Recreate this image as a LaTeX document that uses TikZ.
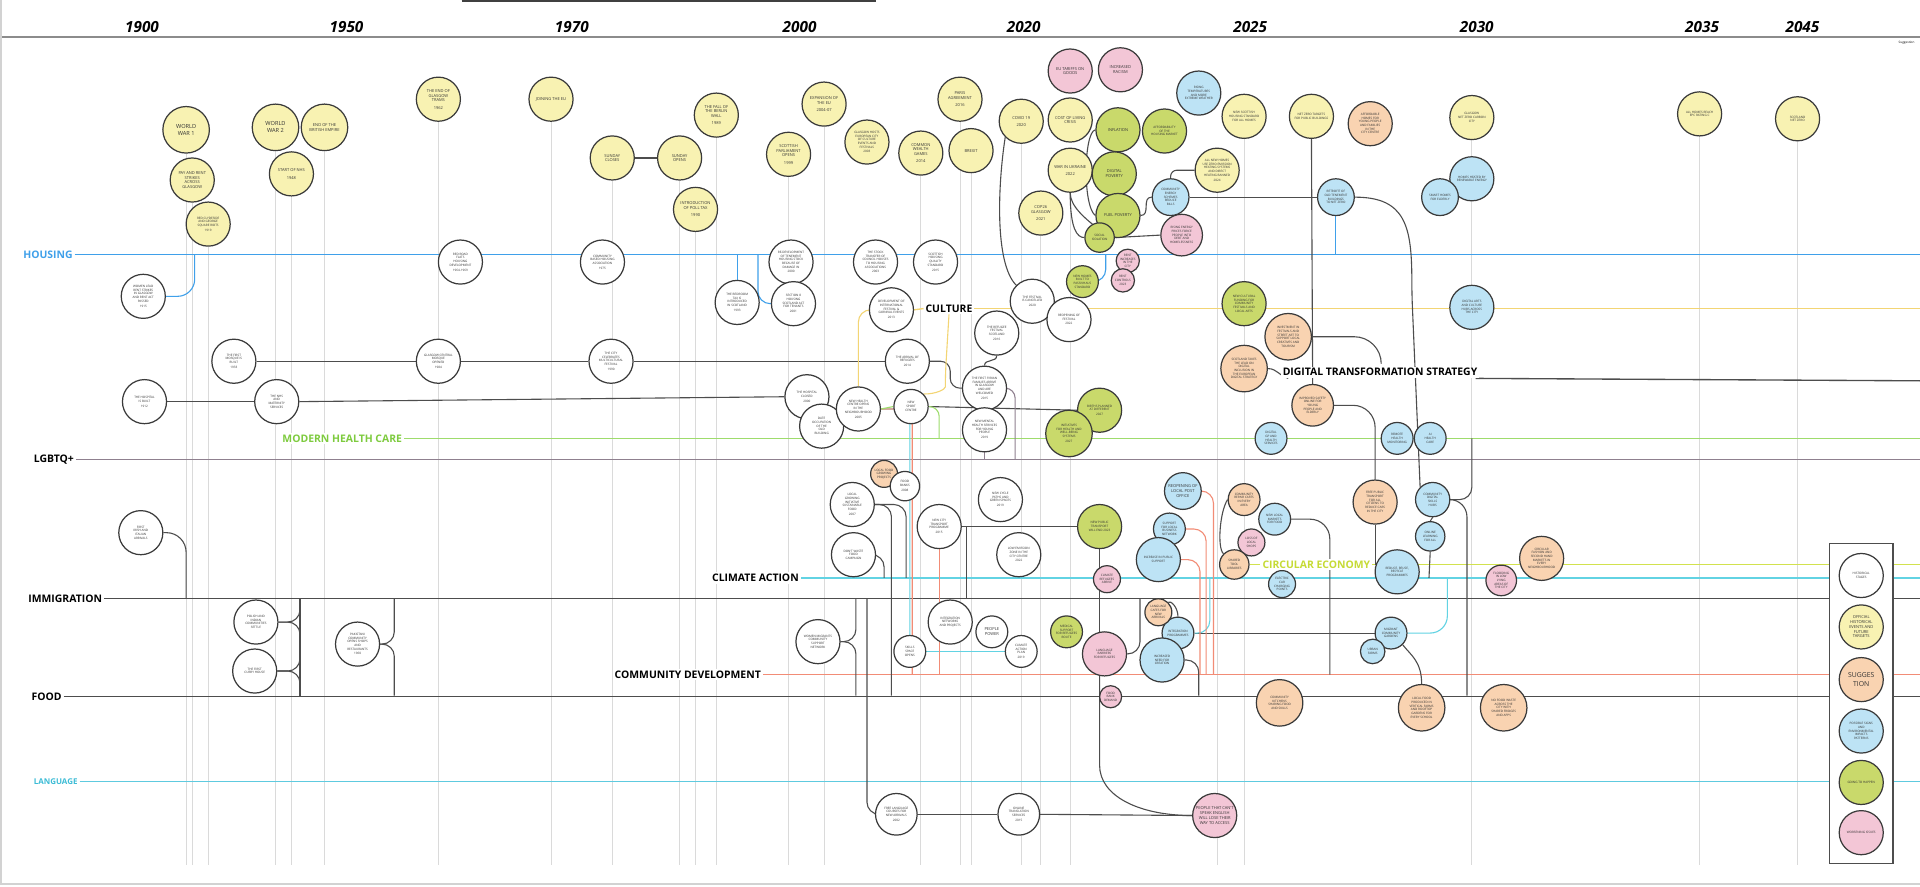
\documentclass[tikz,border=0pt]{standalone}
\usepackage{fontspec}
\setmainfont{Open Sans}
\pgfdeclarelayer{back}
\pgfdeclarelayer{bg}
\pgfsetlayers{back,bg,main}
\definecolor{cyel}{HTML}{F8F2B2}
\definecolor{cpink}{HTML}{F3C6D6}
\definecolor{cgreen}{HTML}{C9D96B}
\definecolor{cblue}{HTML}{BDE3F5}
\definecolor{corange}{HTML}{F9D3B1}
\definecolor{cbord}{HTML}{3A3A3A}
\definecolor{chouse}{HTML}{3FA0EA}
\definecolor{cculture}{HTML}{F3D574}
\definecolor{chealth}{HTML}{9EDC6C}
\definecolor{chealthT}{HTML}{7ECB3F}
\definecolor{clgbt}{HTML}{8F808F}
\definecolor{cclim}{HTML}{62D3E3}
\definecolor{cdark}{HTML}{4D4D4D}
\definecolor{ccomm}{HTML}{F28C76}
\definecolor{clang}{HTML}{5ECADF}
\definecolor{clangT}{HTML}{3CBCD6}
\definecolor{ccirc}{HTML}{D2E24E}
\definecolor{ccircT}{HTML}{C6DB35}
\definecolor{cgrid}{HTML}{DADADA}
\newcommand\ft{\fontsize{2.5}{3.0}\selectfont}
\newcommand\fm{\fontsize{3.3}{3.9}\selectfont}
\newcommand\fb{\fontsize{4.6}{5.6}\selectfont}
\newcommand\labf{\fontsize{8.5}{10}\selectfont\bfseries}
\newcommand\yearf{\fontsize{12.5}{14}\selectfont\bfseries\itshape}
\begin{document}
\begin{tikzpicture}[x=1pt,y=-1pt,
  ev/.style={circle,draw=cbord,line width=1pt,inner sep=0pt,align=center,font=\ft,text=black!80,minimum size=36pt},
  cY/.style={ev,fill=cyel}, cP/.style={ev,fill=cpink}, cG/.style={ev,fill=cgreen},
  cB/.style={ev,fill=cblue}, cO/.style={ev,fill=corange}, cW/.style={ev,fill=white},
  lab/.style={font=\labf,inner sep=1.5pt,fill=white},
  yrline/.style={draw=cgrid,line width=0.7pt},
  dk/.style={draw=cdark,line width=0.9pt,rounded corners=10pt},
  hs/.style={draw=chouse,line width=0.9pt,rounded corners=10pt},
  cy/.style={draw=cclim,line width=0.9pt,rounded corners=10pt},
  sa/.style={draw=ccomm,line width=0.9pt,rounded corners=10pt},
  gr/.style={draw=chealth,line width=0.9pt,rounded corners=8pt},
  pu/.style={draw=clgbt,line width=0.9pt,rounded corners=8pt},
  yl/.style={draw=cculture,line width=0.9pt,rounded corners=10pt},
  year/.style={font=\yearf,inner sep=0pt}
]
\path[use as bounding box] (0,0) rectangle (1568,724);
\begin{pgfonlayer}{back}
\fill[white] (0,0) rectangle (1568,724);
\draw[gray!35,line width=1pt] (0.8,0) -- (0.8,722) -- (1568,722);
\draw[black!75,line width=1.5pt] (377,0.75) -- (715,0.75);
\draw[black!45,line width=1.6pt] (2,30.5) -- (1568,30.5);
\end{pgfonlayer}

% ---------- years
\node[year] at (116,22) {1900};
\node[year] at (283,22) {1950};
\node[year] at (467,22) {1970};
\node[year] at (653,22) {2000};
\node[year] at (836,22) {2020};
\node[year] at (1021,22) {2025};
\node[year] at (1206,22) {2030};
\node[year] at (1390,22) {2035};
\node[year] at (1472,22) {2045};
\node[font=\ft,inner sep=0pt] at (1557,35) {Suggestion};

% ---------- yellow events
\node[cY,minimum size=38pt,font=\fb] (y1) at (152,106) {WORLD\\WAR 1};
\node[cY,font=\fm] (y2) at (157,147) {PAY AND RENT\\STRIKES\\ACROSS\\GLASGOW};
\node[cY] (y3) at (170,183) {RED CLYDESIDE\\AND GEORGE\\SQUARE RIOTS\\[1pt]1919};
\node[cY,minimum size=38pt,font=\fb] (y4) at (225,104) {WORLD\\WAR 2};
\node[cY,minimum size=38pt,font=\fm] (y5) at (265,104) {END OF THE\\BRITISH EMPIRE};
\node[cY,font=\fm] (y6) at (238,142) {START OF NHS\\[3pt]1948};
\node[cY,font=\fm] (y7) at (358,81) {THE END OF\\GLASGOW\\TRAMS\\[2pt]1962};
\node[cY,font=\fm] (y8) at (450,81) {JOINING THE EU};
\node[cY,font=\fm] (y9) at (500,129) {SUNDAY\\CLOSES};
\node[cY,font=\fm] (y10) at (555,129) {SUNDAY\\OPENS};
\node[cY,font=\fm] (y11) at (585,94) {THE FALL OF\\THE BERLIN\\WALL\\[2pt]1989};
\node[cY,font=\fm] (y12) at (568,171) {INTRODUCTION\\OF POLL TAX\\[2pt]1990};
\node[cY,font=\fm] (y13) at (644,126) {SCOTTISH\\PARLIAMENT\\OPENS\\[2pt]1999};
\node[cY,font=\fm] (y14) at (673,85) {EXPANSION OF\\THE EU\\[2pt]2004-07};
\node[cY] (y15) at (708,116) {GLASGOW HOSTS\\EUROPEAN CITY\\OF CULTURE\\EVENTS AND\\FESTIVALS\\[1pt]2003};
\node[cY,font=\fm] (y16) at (752,125) {COMMON\\WEALTH\\GAMES\\[2pt]2014};
\node[cY,font=\fm] (y17) at (784,81) {PARIS\\AGREEMENT\\[2pt]2016};
\node[cY,font=\fm] (y18) at (793,123) {BREXIT};
\node[cY,font=\fm] (y19) at (834,99) {COVID 19\\[2pt]2020};
\node[cY,font=\fm] (y20) at (850,174) {COP26\\GLASGOW\\[2pt]2021};
\node[cY,font=\fm] (y21) at (874,98) {COST OF LIVING\\CRISIS};
\node[cY,font=\fm] (y22) at (874,139) {WAR IN UKRAINE\\[2pt]2022};
\node[cY] (y23) at (1016,95) {NEW SCOTTISH\\HOUSING STANDARD\\FOR ALL HOMES};
\node[cY] (y24) at (994,139) {ALL NEW HOMES\\USE ZERO EMISSION\\HEATING SYSTEMS\\AND DIRECT\\HEATING BANNED\\[1pt]2024};
\node[cY] (y25) at (1071,95) {NET ZERO TARGETS\\FOR PUBLIC BUILDINGS};
\node[cY] (y26) at (1202,96) {GLASGOW\\NET ZERO CARBON\\CITY};
\node[cY] (y27) at (1388,93) {ALL HOMES REACH\\EPC RATING C};
\node[cY] (y28) at (1468,97) {SCOTLAND\\NET ZERO};

% ---------- pink
\node[cP,font=\fm] (p1) at (874,58) {EU TARIFFS ON\\GOODS};
\node[cP,font=\fm] (p2) at (915,57) {INCREASED\\RACISM};
\node[cP,minimum size=34pt] (p3) at (965,192) {RISING ENERGY\\PRICES FORCE\\PEOPLE INTO\\DEBT AND\\HOMELESSNESS};
\node[cP,minimum size=19pt] (p4) at (921,213) {RENT\\INCREASES\\IN THE\\CITY};
\node[cP,minimum size=19pt] (p5) at (917,229) {RENT\\CONTROLS\\2023};
\node[cP,minimum size=22pt] (p6) at (904,473) {CLIMATE\\REFUGEES\\ARRIVE};
\node[cP] (p7) at (902,534) {LANGUAGE\\BARRIERS\\FOR REFUGEES};
\node[cP,minimum size=18pt] (p8) at (907,569) {FOOD\\BANK\\DEMAND};
\node[cP,minimum size=22pt] (p9) at (1022,443) {LOSS OF\\LOCAL\\SHOPS};
\node[cP,minimum size=25pt] (p10) at (1226,474) {FLOODING\\IN LOW\\LYING\\AREAS OF\\THE CITY};
\node[cP,font=\fm] (p11) at (992,666) {PEOPLE THAT CAN'T\\SPEAK ENGLISH\\WILL LOSE THEIR\\WAY TO ACCESS};

% ---------- green
\node[cG,font=\fm] (g1) at (913,106) {INFLATION};
\node[cG] (g2) at (951,107) {AFFORDABILITY\\OF THE\\HOUSING MARKET};
\node[cG,font=\fm] (g3) at (910,142) {DIGITAL\\POVERTY};
\node[cG,font=\fm] (g4) at (913,176) {FUEL POVERTY};
\node[cG,minimum size=24pt] (g5) at (898,194) {SOCIAL\\ISOLATION};
\node[cG,minimum size=26pt] (g6) at (884,230) {NEW HOMES\\BUILT TO\\PASSIVHAUS\\STANDARD};
\node[cG] (g7) at (1016,248) {NEW CULTURAL\\FUNDING FOR\\COMMUNITY\\FESTIVALS AND\\LOCAL ARTS};
\node[cG] (g8) at (898,335) {BIRTHS PLANNED\\AT DIFFERENT\\[1pt]2027};
\node[cG,minimum size=38pt] (g9) at (873,354) {INITIATIVES\\FOR HEALTH AND\\WELL-BEING\\SYSTEMS\\[1pt]2027};
\node[cG] (g10) at (898,430) {NEW PUBLIC\\TRANSPORT\\WILL END 2023};
\node[cG,minimum size=26pt] (g11) at (871,516) {MEDICAL\\SUPPORT\\FOR REFUGEES\\ROUTE};

% ---------- blue
\node[cB] (b1) at (979,76) {RISING\\TEMPERATURES\\AND MORE\\EXTREME WEATHER};
\node[cB,minimum size=30pt] (b2) at (956,161) {COMMUNITY\\ENERGY\\SCHEMES\\REDUCE\\BILLS};
\node[cB,minimum size=30pt] (b3) at (1091,161) {RETROFIT OF\\OLD TENEMENT\\BUILDINGS\\TO NET ZERO};
\node[cB] (b4) at (1202,146) {HOMES HEATED BY\\RENEWABLE ENERGY};
\node[cB,minimum size=30pt] (b5) at (1176,161) {SMART HOMES\\FOR ELDERLY};
\node[cB] (b6) at (1202,251) {DIGITAL ARTS\\AND CULTURE\\HUBS ACROSS\\THE CITY};
\node[cB,minimum size=26pt] (b7) at (1038,358) {DIGITAL\\GP AND\\HEALTH\\SERVICES};
\node[cB,minimum size=26pt] (b8) at (1141,358) {REMOTE\\HEALTH\\MONITORING};
\node[cB,minimum size=26pt] (b9) at (1168,358) {AI\\HEALTH\\CARE};
\node[cB,minimum size=30pt,font=\fm] (b10) at (966,401) {REOPENING OF\\LOCAL POST\\OFFICE};
\node[cB,minimum size=26pt] (b11) at (955,432) {SUPPORT\\FOR LOCAL\\BUSINESS\\NETWORK};
\node[cB] (b12) at (946,457) {INCREASE IN PUBLIC\\SUPPORT};
\node[cB,minimum size=26pt] (b13) at (1041,424) {NEW LOCAL\\MARKETS\\FOR FOOD};
\node[cB,minimum size=22pt] (b14) at (1047,477) {ELECTRIC\\CAR\\CHARGING\\POINTS};
\node[cB,minimum size=28pt] (b15) at (1170,408) {COMMUNITY\\DIGITAL\\SKILLS\\HUBS};
\node[cB,minimum size=24pt] (b16) at (1168,438) {ONLINE\\LEARNING\\FOR ALL};
\node[cB] (b17) at (1141,467) {REDUCE, REUSE,\\RECYCLE\\PROGRAMMES};
\node[cB,minimum size=26pt] (b18) at (962,517) {INTEGRATION\\PROGRAMMES};
\node[cB] (b19) at (949,539) {INCREASED\\NEED FOR\\CREATION};
\node[cB,minimum size=26pt] (b20) at (1136,517) {MIGRANT\\COMMUNITY\\GARDENS};
\node[cB,minimum size=20pt] (b21) at (1121,532) {URBAN\\FARMS};

% ---------- orange
\node[cO] (o1) at (1119,101) {AFFORDABLE\\HOMES FOR\\YOUNG PEOPLE\\AND FAMILIES\\IN THE\\CITY CENTRE};
\node[cO,minimum size=38pt] (o2) at (1052,275) {INVESTMENT IN\\FESTIVALS AND\\STREET ART TO\\SUPPORT LOCAL\\CREATIVES AND\\TOURISM};
\node[cO,minimum size=38pt] (o3) at (1016,301) {SCOTLAND TAKES\\THE LEAD ON\\DIGITAL\\INCLUSION IN\\THE EUROPEAN\\DIGITAL STRATEGY};
\node[cO,minimum size=34pt] (o4) at (1072,331) {IMPROVED SAFETY\\ONLINE FOR\\YOUNG\\PEOPLE AND\\ELDERLY};
\node[cO,minimum size=26pt] (o5) at (1016,408) {COMMUNITY\\REPAIR CAFES\\IN EVERY\\AREA};
\node[cO,minimum size=24pt] (o6) at (1008,461) {SHARED\\TOOL\\LIBRARIES};
\node[cO] (o7) at (1123,410) {FREE PUBLIC\\TRANSPORT\\FOR ALL\\CITIZENS TO\\REDUCE CARS\\IN THE CITY};
\node[cO,minimum size=22pt] (o8) at (946,500) {LANGUAGE\\CAFES FOR\\NEW\\ARRIVALS};
\node[cO,minimum size=22pt] (o9) at (722,387) {LOCAL FOOD\\GROWING\\PROJECTS};
\node[cO] (o10) at (1259,456) {CIRCULAR\\FASHION AND\\SECOND HAND\\MARKETS IN\\EVERY\\NEIGHBOURHOOD};
\node[cO,minimum size=38pt] (o11) at (1045,574) {COMMUNITY\\KITCHENS\\SHARING FOOD\\AND SKILLS};
\node[cO,minimum size=38pt] (o12) at (1161,578) {LOCAL FOOD\\PRODUCED IN\\VERTICAL FARMS\\AND ROOFTOP\\GARDENS FOR\\EVERY SCHOOL};
\node[cO,minimum size=38pt] (o13) at (1228,578) {NO FOOD WASTE\\ACROSS THE\\CITY WITH\\SHARED FRIDGES\\AND APPS};

% ---------- white
\node[cW] (w1) at (117,242) {WOMEN LEAD\\RENT STRIKES\\IN GLASGOW\\AND RENT ACT\\PASSED\\[1pt]1915};
\node[cW] (w2) at (191,295) {THE FIRST\\MOSQUE IS\\BUILT\\[1pt]1933};
\node[cW] (w3) at (358,295) {GLASGOW CENTRAL\\MOSQUE\\OPENED\\[1pt]1984};
\node[cW] (w4) at (499,295) {THE CITY\\CELEBRATES\\MULTICULTURAL\\FESTIVAL\\[1pt]1990};
\node[cW] (w5) at (118,328) {THE HOSPITAL\\IS BUILT\\[1pt]1912};
\node[cW] (w6) at (226,328) {THE NHS\\AND\\MATERNITY\\SERVICES};
\node[cW] (w7) at (376,214) {RED ROAD\\FLATS\\HOUSING\\DEVELOPMENT\\[1pt]1964-1969};
\node[cW] (w8) at (492,214) {COMMUNITY\\BASED HOUSING\\ASSOCIATION\\[1pt]1975};
\node[cW] (w9) at (646,214) {RE-DEVELOPMENT\\OF TENEMENT\\HOUSING STOCK\\BECAUSE OF\\DAMAGE IN\\[1pt]2000};
\node[cW] (w10) at (602,247) {THE BEDROOM\\TAX IS\\INTRODUCED\\IN SCOTLAND\\[1pt]1993};
\node[cW] (w11) at (648,248) {SECTION 8\\HOUSING\\SCOTLAND ACT\\FOR TENANTS\\[1pt]2001};
\node[cW] (w12) at (715,214) {THE STOCK\\TRANSFER OF\\COUNCIL HOUSES\\TO HOUSING\\ASSOCIATIONS\\[1pt]2003};
\node[cW] (w13) at (764,214) {SCOTTISH\\HOUSING\\QUALITY\\STANDARD\\[1pt]2015};
\node[cW] (w14) at (728,253) {DEVELOPMENT OF\\INTERNATIONAL\\FESTIVAL \&\\CARNIVAL EVENTS\\[1pt]2013};
\node[cW] (w15) at (843,246) {THE FESTIVAL\\IS CANCELLED\\[1pt]2020};
\node[cW] (w16) at (873,261) {REOPENING OF\\FESTIVAL\\[1pt]2022};
\node[cW] (w17) at (814,272) {THE REFUGEE\\FESTIVAL\\SCOTLAND\\[1pt]2016};
\node[cW] (w18) at (741,295) {THE ARRIVAL OF\\REFUGEES\\[1pt]2014};
\node[cW] (w19) at (804,317) {THE FIRST SYRIAN\\FAMILIES ARRIVE\\IN GLASGOW\\AND ARE\\WELCOMED\\[1pt]2015};
\node[cW] (w20) at (804,351) {NEW MENTAL\\HEALTH SERVICES\\FOR YOUNG\\PEOPLE\\[1pt]2019};
\node[cW] (w21) at (659,324) {THE HOSPITAL\\CLOSED\\[1pt]2000};
\node[cW] (w22) at (671,348) {DATE\\OCCUPATION\\OF THE\\OLD\\BUILDING};
\node[cW] (w23) at (701,334) {NEW HEALTH\\CENTRE OPENS\\IN THE\\NEIGHBOURHOOD\\[1pt]2005};
\node[cW,minimum size=28pt] (w24) at (744,332) {NEW\\SPORT\\CENTRE};
\node[cW,minimum size=24pt] (w25) at (739,397) {FOOD\\BANKS\\[1pt]2008};
\node[cW] (w26) at (696,412) {LOCAL\\GROWING\\INITIATIVE\\SUSTAINABLE\\FOOD\\[1pt]2007};
\node[cW] (w27) at (817,408) {NEW CYCLE\\PATHS AND\\GREEN SPACES\\[1pt]2019};
\node[cW] (w28) at (767,430) {NEW CITY\\TRANSPORT\\PROGRAMME\\[1pt]2015};
\node[cW] (w29) at (697,453) {DON'T WASTE\\FOOD\\CAMPAIGN};
\node[cW] (w30) at (832,453) {LOW EMISSION\\ZONE IN THE\\CITY CENTRE\\[1pt]2022};
\node[cW] (w31) at (115,435) {FIRST\\IRISH AND\\ITALIAN\\ARRIVALS};
\node[cW] (w32) at (209,508) {POLISH AND\\INDIAN\\COMMUNITIES\\SETTLE};
\node[cW] (w33) at (208,548) {THE FIRST\\CURRY HOUSE};
\node[cW] (w34) at (292,526) {PAKISTANI\\COMMUNITY\\OPENS SHOPS\\AND\\RESTAURANTS\\[1pt]1960};
\node[cW] (w35) at (668,524) {WOMEN MIGRANTS\\COMMUNITY\\SUPPORT\\NETWORK};
\node[cW] (w36) at (776,508) {INTEGRATION\\NETWORKS\\AND PROJECTS};
\node[cW,minimum size=26pt,font=\fm] (w37) at (810,516) {PEOPLE\\POWER};
\node[cW,minimum size=26pt] (w38) at (834,532) {CLIMATE\\ACTION\\PLAN\\[1pt]2019};
\node[cW,minimum size=26pt] (w39) at (743,532) {SKILLS\\SPACE\\OPENS};
\node[cW,minimum size=34pt] (w40) at (732,665) {FREE LANGUAGE\\COURSES FOR\\NEW ARRIVALS\\[1pt]2002};
\node[cW,minimum size=34pt] (w41) at (832,665) {ONLINE\\TRANSLATION\\SERVICES\\[1pt]2015};

% ---------- theme labels
\node[lab,anchor=east,text=chouse] (hous) at (61,208) {HOUSING};
\node[lab] (cult) at (775,252) {CULTURE};
\node[lab,anchor=east,text=chealthT] (heal) at (330,358) {MODERN HEALTH CARE};
\node[lab,anchor=east] (lgbt) at (62,375) {LGBTQ+};
\node[lab] (digi) at (1127,304) {DIGITAL TRANSFORMATION STRATEGY};
\node[lab,text=ccircT] (circ) at (1075,461) {CIRCULAR ECONOMY};
\node[lab,anchor=east] (clim) at (654,472) {CLIMATE ACTION};
\node[lab,anchor=east] (immi) at (85,489) {IMMIGRATION};
\node[lab,anchor=east] (comm) at (623,551) {COMMUNITY DEVELOPMENT};
\node[lab,anchor=east] (food) at (52,569) {FOOD};
\node[lab,anchor=east,text=clangT,font=\fontsize{6.5}{8}\selectfont\bfseries] (lang) at (65,638) {LANGUAGE};

% ---------- legend
\draw[cdark,line width=1pt,fill=white] (1494,444) rectangle (1546,705);
\node[cW] (l1) at (1520,470) {HISTORICAL\\STAGES};
\node[cY,font=\fm] (l2) at (1520,512) {OFFICIAL\\HISTORICAL\\EVENTS AND\\FUTURE\\TARGETS};
\node[cO,font=\fontsize{5.6}{6.8}\selectfont] (l3) at (1520,555) {SUGGES\\TION};
\node[cB] (l4) at (1520,597) {POSSIBLE SIGNS\\AND\\ENVIRONMENTAL\\IMPACTS\\PATTERNS};
\node[cG] (l5) at (1520,639) {GOING TO HAPPEN};
\node[cP] (l6) at (1520,680) {WORSENING ISSUES};

% ================= lines (background)
\begin{pgfonlayer}{bg}
% year lines
\foreach \n/\x in {y1/152,y2/157,y3/170,y4/225,y6/238,y5/265,y7/358,y8/450,y9/500,y10/555,y12/568,y11/585,y13/644,y14/673,y16/752,y17/784,y18/793,y19/834,y20/850,y22/874,y24/994,y23/1016,y26/1202,y27/1388,y28/1468}
  \draw[yrline] (\n.south) -- (\x,706);
% theme lines
\draw[chouse,line width=1.2pt] (hous.east) -- (1568,208);
\draw[cculture,line width=1.1pt] (w14.east) -- (cult.west);
\draw[cculture,line width=1.1pt] (cult.east) -- (1568,252);
\draw[chealth,line width=1.1pt] (heal.east) -- (1568,358);
\draw[clgbt,line width=1.1pt] (lgbt.east) -- (1568,375);
\draw[cdark,line width=1.1pt] (1205,309) -- (1568,311);
\draw[cclim,line width=1.1pt] (clim.east) -- (1568,472);
\draw[cdark,line width=1.1pt] (immi.east) -- (1568,489);
\draw[ccomm,line width=1.1pt] (comm.east) -- (1568,551);
\draw[cdark,line width=1.1pt] (food.east) -- (1568,569);
\draw[clang,line width=1.1pt] (lang.east) -- (1568,638);
\draw[ccirc,line width=1.1pt] (o6.east) -- (circ.west);
\draw[ccirc,line width=1.1pt] (circ.east) -- (1568,461);
% housing connectors
\draw[hs,rounded corners=14pt] (w1.east) -| (159,208);
\draw[hs] (602,208) -- (w10.north);
\draw[hs] (619,208) |- (w11.west);
\draw[hs] (g6.east) -| (903,208);
\draw[hs] (b3.south) -- (1091,208);
% dark connectors
\draw[dk] (y9.east) -- (y10.west);
\draw[dk] (w2.east) -- (w3.west);
\draw[dk] (w3.east) -- (w4.west);
\draw[dk] (w4.east) -- (w18.west);
\draw[dk] (w5.east) -- (w6.west);
\draw[dk] (w6.east) -- (w21.west);
\draw[dk,rounded corners=8pt] (w18.east) -| (776,317) -- (w19.west);
\draw[dk] (w17.south) .. controls (814,296) and (804,293) .. (w19.north);
\draw[dk] (w24.east) -- (g8.west);
\draw[dk] (w28.east) -- (g10.west);
\draw[dk] (789,430) -- (789,489);
\draw[dk] (w26.east) -| (728,568);
\draw[dk] (w26.east) -| (740,472);
\draw[dk] (w29.east) -| (722,472);
\draw[dk] (w35.east) -| (699,489);
\draw[dk] (w35.east) -| (699,568);
\draw[dk] (708,489) |- (w40.west);
\draw[dk] (w40.east) -- (w41.west);
\draw[dk] (w41.east) -- (p11.west);
\draw[dk,rounded corners=16pt] (w31.east) -| (152,489);
\draw[dk] (w32.east) -| (245,489);
\draw[dk] (w32.east) -| (245,530);
\draw[dk] (w33.east) -| (245,530);
\draw[dk] (w33.east) -| (245,568);
\draw[dk] (245,489) -- (245,568);
\draw[dk] (w34.east) -| (322,489);
\draw[dk] (w34.east) -| (322,568);
\draw[dk] (y19.south west) .. controls (815,150) and (812,215) .. (w15.north west);
\draw[dk] (g1.west) .. controls (885,108) and (884,168) .. (g4.west);
\draw[dk] (y22.south) .. controls (874,168) and (885,178) .. (g4.south west);
\draw[dk] (y22.south) .. controls (874,188) and (880,194) .. (g5.west);
\draw[dk] (g4.east) .. controls (940,176) and (932,161) .. (b2.west);
\draw[dk] (g5.east) -- (p3.west);
\draw[dk,rounded corners=5pt] (b2.north) |- (y24.west);
\draw[dk] (b2.east) -- (b3.west);
\draw[dk] (b3.east) .. controls (1148,161) and (1153,185) .. (1153,240) -- (b15.north west);
\draw[dk] (b15.south) -- (b16.north);
\draw[dk] (b16.south) -- (1167,472);
\draw[dk] (1202,358) |- (b15.east);
\draw[dk,rounded corners=14pt] (b15.east) -| (1198,568);
\draw[dk] (y25.south) -- (o4.north);
\draw[dk,rounded corners=22pt] (o2.east) -| (1128,297);
\draw[dk] (o3.east) .. controls (1043,301) and (1046,308) .. (1052,309);
\draw[dk,rounded corners=18pt] (o4.east) -| (o7.north);
\draw[dk] (o7.south) -- (1123,461);
\draw[dk,rounded corners=16pt] (b13.east) -| (1086,551);
\draw[dk] (o5.west) .. controls (996,418) and (994,448) .. (o6.north west);
\draw[dk] (b19.east) -| (979,568);
\draw[dk] (b18.east) -- (b20.west);
\draw[dk] (b20.south east) .. controls (1152,535) and (1161,540) .. (o12.north);
\draw[dk] (898,448) -- (898,516);
\draw[dk] (931,489) |- (p7.east);
\draw[dk] (898,552) -- (898,615) .. controls (898,650) and (930,666) .. (p11.west);
\draw[dk] (o8.north east) .. controls (956,490) and (962,496) .. (b18.north);
% cyan
\draw[cy] (w23.east) -| (w39.north);
\draw[cy] (w39.east) -- (w38.west);
\draw[cy] (988,472) |- (b18.east);
\draw[cy,rounded corners=14pt] (b20.east) -| (1182,472);
% salmon
\draw[sa] (w23.east) -| (745,551);
\draw[sa] (w28.south) -- (767,551);
\draw[sa] (b10.east) -| (991,551);
\draw[sa] (b11.east) -| (985,551);
\draw[sa] (b12.east) -| (980,551);
% green
\draw[gr] (w23.east) -- (w24.west);
\draw[gr] (w24.east) -| (767,358);
% purple
\draw[pu] (w19.east) -| (829,375);
\draw[pu] (w20.south) -- (804,375);
% culture
\draw[yl] (w14.west) -| (w23.north);
\draw[yl] (cult.south) -- (772,306) .. controls (772,318) and (764,322) .. (w24.north east);
\end{pgfonlayer}
\end{tikzpicture}
\end{document}
